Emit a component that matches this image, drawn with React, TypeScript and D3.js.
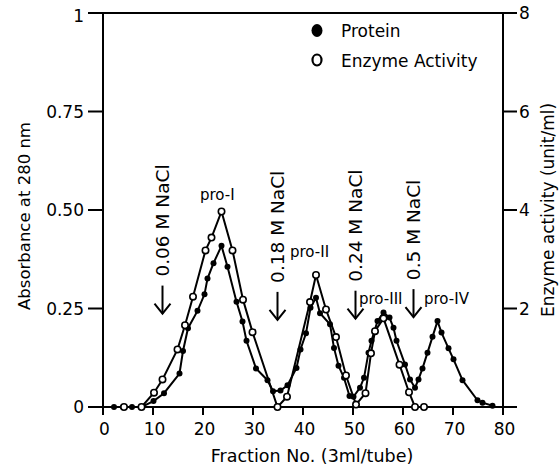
import React, { useEffect, useRef } from 'react';
import * as d3 from 'd3';

// Protein (absorbance at 280 nm), left axis
const proteinFraction = [2.2, 4, 5.8, 7.7, 10.1, 12.2, 15.3, 16, 17, 18.9, 20.3, 20.9, 22.1, 23.7, 24.9, 26.7, 27.9, 28.7, 30.6, 32.9, 34, 35.5, 36.9, 38.7, 39.5, 40.6, 41.5, 42.6, 43.4, 45.4, 46.2, 47.1, 48.2, 49.3, 50.1, 51.4, 52.2, 53.1, 53.7, 54.9, 56.1, 57.3, 58.1, 58.7, 60.4, 61.4, 62.4, 63.1, 63.9, 64.9, 65.9, 66.9, 67.7, 69.1, 70.1, 71.9, 74.9, 75.9, 77.9];
const proteinAbsorbance = [0, 0, 0, 0, 0.015, 0.035, 0.085, 0.142, 0.2, 0.244, 0.286, 0.326, 0.365, 0.409, 0.356, 0.267, 0.217, 0.168, 0.098, 0.068, 0.04, 0.042, 0.055, 0.099, 0.146, 0.187, 0.252, 0.277, 0.238, 0.21, 0.15, 0.105, 0.074, 0.028, 0.026, 0.049, 0.074, 0.138, 0.168, 0.218, 0.24, 0.227, 0.201, 0.168, 0.108, 0.07, 0.049, 0.07, 0.098, 0.138, 0.178, 0.218, 0.189, 0.149, 0.121, 0.068, 0.017, 0.011, 0.003];

// Enzyme activity (unit/ml), right axis
const enzymeFraction = [4.2, 7.7, 10.2, 11.9, 14.9, 16.4, 18, 20.5, 21.7, 23.7, 25.9, 28, 29.9, 34.9, 36.8, 41.4, 42.6, 44.6, 46.6, 48.6, 50.6, 52.5, 53.6, 54.4, 56.1, 59.3, 61.2, 62.4, 64.2];
const enzymeActivity = [0, 0, 0.29, 0.56, 1.17, 1.66, 2.24, 3.18, 3.44, 3.97, 3.18, 2.18, 1.52, 0, 0.21, 2.13, 2.68, 1.98, 1.42, 0.64, 0.05, 0.28, 1.09, 1.54, 1.8, 0.86, 0.3, 0, 0];

const xTicks = [0, 10, 20, 30, 40, 50, 60, 70, 80];
const leftTicks = [0, 0.25, 0.5, 0.75, 1];
const leftTickLabels = ['0', '0.25', '0.50', '0.75', '1'];
const rightTicks = [0, 2, 4, 6, 8];
const rightTickLabels = ['', '2', '4', '6', '8'];

// NaCl step annotations (fraction where the step starts, absorbance where the label ends)
const saltLabels = ['0.06 M NaCl', '0.18 M NaCl', '0.24 M NaCl', '0.5 M NaCl'];
const saltFractions = [11.9, 34.9, 50.5, 62.1];
const saltLevels = [0.331, 0.315, 0.318, 0.322];

const peakLabels = ['pro-I', 'pro-II', 'pro-III', 'pro-IV'];
const peakFractions = [19.4, 37.4, 51.2, 64.2];
const peakLevels = [0.525, 0.381, 0.262, 0.262];

const FONT = '"DejaVu Sans", Verdana, sans-serif';

const App = () => {
  const svgRef = useRef<SVGSVGElement>(null);

  useEffect(() => {
    const width = 560;
    const height = 470;
    const left = 103, right = 503, top = 13, bottom = 407;

    const svg = d3.select(svgRef.current)
      .attr('width', width)
      .attr('height', height);

    svg.selectAll('*').remove();

    const x = d3.scaleLinear().domain([0, 80]).range([left, right]);
    const y = d3.scaleLinear().domain([0, 1]).range([bottom, top]);
    const y2 = d3.scaleLinear().domain([0, 8]).range([bottom, top]);

    const g = svg.append('g')
      .attr('font-family', FONT)
      .attr('fill', 'black');

    // frame
    g.append('rect')
      .attr('x', left).attr('y', top)
      .attr('width', right - left).attr('height', bottom - top)
      .attr('fill', 'none').attr('stroke', 'black').attr('stroke-width', 2);

    // left axis
    leftTicks.forEach((t, i) => {
      g.append('line')
        .attr('x1', left - 15).attr('x2', left)
        .attr('y1', y(t)).attr('y2', y(t))
        .attr('stroke', 'black').attr('stroke-width', 2);
      g.append('text')
        .attr('x', left - 19).attr('y', y(t) + (i === 4 ? 3 : 0))
        .attr('dy', '0.36em')
        .attr('text-anchor', 'end')
        .attr('font-size', 17)
        .text(leftTickLabels[i]);
    });

    // right axis
    rightTicks.forEach((t, i) => {
      g.append('line')
        .attr('x1', right).attr('x2', right + 14)
        .attr('y1', y2(t)).attr('y2', y2(t))
        .attr('stroke', 'black').attr('stroke-width', 2);
      g.append('text')
        .attr('x', right + 16).attr('y', y2(t))
        .attr('dy', '0.36em')
        .attr('font-size', 17)
        .text(rightTickLabels[i]);
    });

    // bottom axis
    xTicks.forEach(t => {
      g.append('line')
        .attr('x1', x(t)).attr('x2', x(t))
        .attr('y1', bottom).attr('y2', bottom + 8)
        .attr('stroke', 'black').attr('stroke-width', 2);
      g.append('text')
        .attr('x', x(t) + 1.5).attr('y', bottom + 28)
        .attr('text-anchor', 'middle')
        .attr('font-size', 17)
        .text(t);
    });

    g.append('text')
      .attr('x', 312).attr('y', 462)
      .attr('text-anchor', 'middle')
      .attr('font-size', 17.5)
      .text('Fraction No. (3ml/tube)');

    g.append('text')
      .attr('transform', `translate(30,${216}) rotate(-90)`)
      .attr('text-anchor', 'middle')
      .attr('font-size', 16.5)
      .text('Absorbance at 280 nm');

    g.append('text')
      .attr('transform', `translate(554,${210}) rotate(-90)`)
      .attr('text-anchor', 'middle')
      .attr('font-size', 17)
      .text('Enzyme activity (unit/ml)');

    // series
    const protein = proteinFraction.map((f, i) => [f, proteinAbsorbance[i]] as [number, number]);
    const enzyme = enzymeFraction.map((f, i) => [f, enzymeActivity[i]] as [number, number]);

    const proteinLine = d3.line<[number, number]>().x(d => x(d[0])).y(d => y(d[1]));
    const enzymeLine = d3.line<[number, number]>().x(d => x(d[0])).y(d => y2(d[1]));

    g.append('path').attr('d', proteinLine(protein))
      .attr('fill', 'none').attr('stroke', 'black').attr('stroke-width', 2);
    g.append('path').attr('d', enzymeLine(enzyme))
      .attr('fill', 'none').attr('stroke', 'black').attr('stroke-width', 2);

    g.selectAll('circle.protein')
      .data(protein)
      .enter()
      .append('circle')
      .attr('class', 'protein')
      .attr('cx', d => x(d[0])).attr('cy', d => y(d[1]))
      .attr('r', 3)
      .attr('fill', 'black');

    g.selectAll('circle.enzyme')
      .data(enzyme)
      .enter()
      .append('circle')
      .attr('class', 'enzyme')
      .attr('cx', d => x(d[0])).attr('cy', d => y2(d[1]))
      .attr('r', 3.2)
      .attr('fill', 'white')
      .attr('stroke', 'black').attr('stroke-width', 1.6);

    // NaCl steps
    saltLabels.forEach((label, i) => {
      const cx = x(saltFractions[i]);
      const base = y(saltLevels[i]);
      g.append('text')
        .attr('transform', `translate(${cx},${base}) rotate(-90)`)
        .attr('dy', '0.36em')
        .attr('font-size', 18.5)
        .text(label);
      const a0 = base + 9;
      const a1 = base + 37;
      g.append('line')
        .attr('x1', cx).attr('x2', cx).attr('y1', a0).attr('y2', a1)
        .attr('stroke', 'black').attr('stroke-width', 2);
      g.append('path')
        .attr('d', `M${cx - 8},${a1 - 10}L${cx},${a1}L${cx + 8},${a1 - 10}`)
        .attr('fill', 'none').attr('stroke', 'black').attr('stroke-width', 2);
    });

    peakLabels.forEach((label, i) => {
      g.append('text')
        .attr('x', x(peakFractions[i])).attr('y', y(peakLevels[i]))
        .attr('font-size', 15)
        .text(label);
    });

    // legend
    g.append('ellipse')
      .attr('cx', 317).attr('cy', 30.5).attr('rx', 5.5).attr('ry', 6.5)
      .attr('fill', 'black');
    g.append('ellipse')
      .attr('cx', 317).attr('cy', 60).attr('rx', 4.5).attr('ry', 5.5)
      .attr('fill', 'white').attr('stroke', 'black').attr('stroke-width', 2.2);
    g.append('text').attr('x', 341).attr('y', 36.5).attr('font-size', 17).text('Protein');
    g.append('text').attr('x', 341).attr('y', 66.5).attr('font-size', 17).text('Enzyme Activity');
  }, []);

  return (
    <svg ref={svgRef} style={{ position: 'absolute', left: 0, top: 0, background: 'white' }}></svg>
  );
};

export default App;
